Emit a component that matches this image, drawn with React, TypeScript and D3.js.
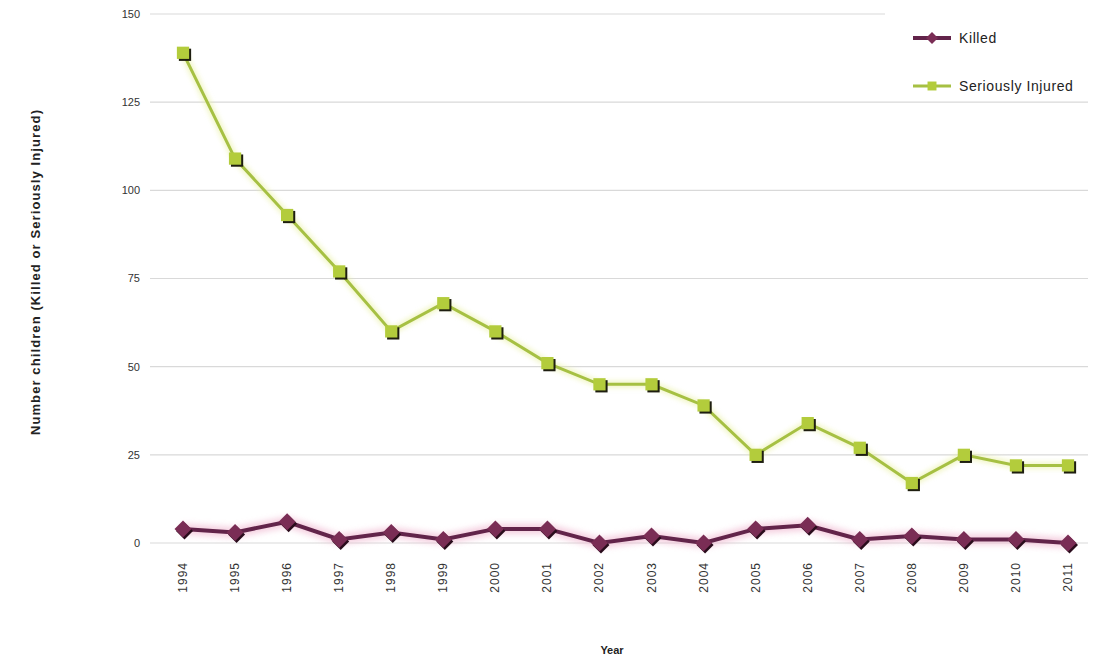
import React from "react";
import * as d3 from "d3";

const years = ["1994", "1995", "1996", "1997", "1998", "1999", "2000", "2001", "2002", "2003", "2004", "2005", "2006", "2007", "2008", "2009", "2010", "2011"];
const killed = [4, 3, 6, 1, 3, 1, 4, 4, 0, 2, 0, 4, 5, 1, 2, 1, 1, 0];
const seriouslyInjured = [139, 109, 93, 77, 60, 68, 60, 51, 45, 45, 39, 25, 34, 27, 17, 25, 22, 22];
const yTicks = [0, 25, 50, 75, 100, 125, 150];
const seriesNames = ["Killed", "Seriously Injured"];

const W = 1094;
const H = 659;
const FONT = "'Liberation Sans', Arial, sans-serif";
const KILLED_COLOR = "#7a2d55";
const KILLED_LINE = "#62244a";
const INJ_COLOR = "#b3cc3c";
const INJ_LINE = "#a6c043";

// square rotated 45 degrees, half-diagonal r
const diamondPath = (r: number) => {
  const p = d3.path();
  p.moveTo(0, -r);
  p.lineTo(r, 0);
  p.lineTo(0, r);
  p.lineTo(-r, 0);
  p.closePath();
  return p.toString();
};

export default function App() {
  const x = d3.scalePoint<string>().domain(years).range([183, 1068]);
  const y = d3.scaleLinear().domain([0, 150]).range([543, 14]);

  const line = d3
    .line<number>()
    .x((_, i) => x(years[i]) as number)
    .y((d) => y(d));

  const square = d3.symbol().type(d3.symbolSquare).size(150)() as string;
  const squareSmall = d3.symbol().type(d3.symbolSquare).size(80)() as string;
  const diamond = diamondPath(8.5);
  const diamondSmall = diamondPath(6);

  return (
    <svg
      width={W}
      height={H}
      style={{ position: "absolute", left: 0, top: 0, background: "#fff" }}
      fontFamily={FONT}
    >
      <defs>
        <filter id="glowPink" x="-10%" y="-50%" width="120%" height="200%">
          <feGaussianBlur stdDeviation="3" />
        </filter>
        <filter id="glowGreen" x="-10%" y="-10%" width="120%" height="120%">
          <feGaussianBlur stdDeviation="2.5" />
        </filter>
      </defs>

      {/* horizontal gridlines */}
      {yTicks.map((t) => (
        <line
          key={"g" + t}
          x1={150}
          x2={t === 150 ? 885 : 1088}
          y1={y(t)}
          y2={y(t)}
          stroke="#d9d9d9"
          strokeWidth={1.2}
        />
      ))}

      {/* y tick labels */}
      {yTicks.map((t) => (
        <text
          key={"yl" + t}
          x={140}
          y={y(t)}
          dy="0.35em"
          textAnchor="end"
          fontSize={11}
          fill="#333"
        >
          {t}
        </text>
      ))}

      {/* x tick labels, rotated */}
      {years.map((yr) => (
        <text
          key={"xl" + yr}
          transform={`translate(${(x(yr) as number) + 4},${562}) rotate(-90)`}
          textAnchor="end"
          fontSize={12}
          letterSpacing={1}
          fill="#333"
        >
          {yr}
        </text>
      ))}

      {/* axis titles */}
      <text
        transform={`translate(${40},${272}) rotate(-90)`}
        textAnchor="middle"
        fontSize={13}
        letterSpacing={1.1}
        fontWeight="bold"
        fill="#222"
      >
        Number children (Killed or Seriously Injured)
      </text>
      <text x={612} y={654} textAnchor="middle" fontSize={11} fontWeight="bold" fill="#222">
        Year
      </text>

      {/* Seriously injured series */}
      <path d={line(seriouslyInjured) as string} fill="none" stroke="#e8f0a0" strokeWidth={7} opacity={0.6} filter="url(#glowGreen)" />
      <path d={line(seriouslyInjured) as string} fill="none" stroke={INJ_LINE} strokeWidth={3} />
      {seriouslyInjured.map((v, i) => (
        <g key={"si" + i} transform={`translate(${x(years[i])},${y(v)})`}>
          <path d={square} transform="translate(2,2)" fill="#1e1e10" />
          <path d={square} fill={INJ_COLOR} />
        </g>
      ))}

      {/* Killed series */}
      <path d={line(killed) as string} fill="none" stroke="#f0b8d0" strokeWidth={10} opacity={0.7} filter="url(#glowPink)" />
      <path d={line(killed) as string} fill="none" stroke={KILLED_LINE} strokeWidth={4} />
      {killed.map((v, i) => (
        <g key={"k" + i} transform={`translate(${x(years[i])},${y(v)})`}>
          <path d={diamond} transform="translate(1.5,2)" fill="#2a0c1c" />
          <path d={diamond} fill={KILLED_COLOR} />
        </g>
      ))}

      {/* legend */}
      <g transform="translate(913,38)">
        <line x1={0} x2={38} y1={0} y2={0} stroke={KILLED_LINE} strokeWidth={4} />
        <path d={diamondSmall} transform="translate(19,0)" fill={KILLED_COLOR} />
        <text x={46} y={0} dy="0.35em" fontSize={14} letterSpacing={0.6} fill="#222">
          {seriesNames[0]}
        </text>
      </g>
      <g transform="translate(913,86)">
        <line x1={0} x2={38} y1={0} y2={0} stroke={INJ_LINE} strokeWidth={3} />
        <path d={squareSmall} transform="translate(19,0)" fill={INJ_COLOR} />
        <text x={46} y={0} dy="0.35em" fontSize={14} letterSpacing={0.6} fill="#222">
          {seriesNames[1]}
        </text>
      </g>
    </svg>
  );
}
